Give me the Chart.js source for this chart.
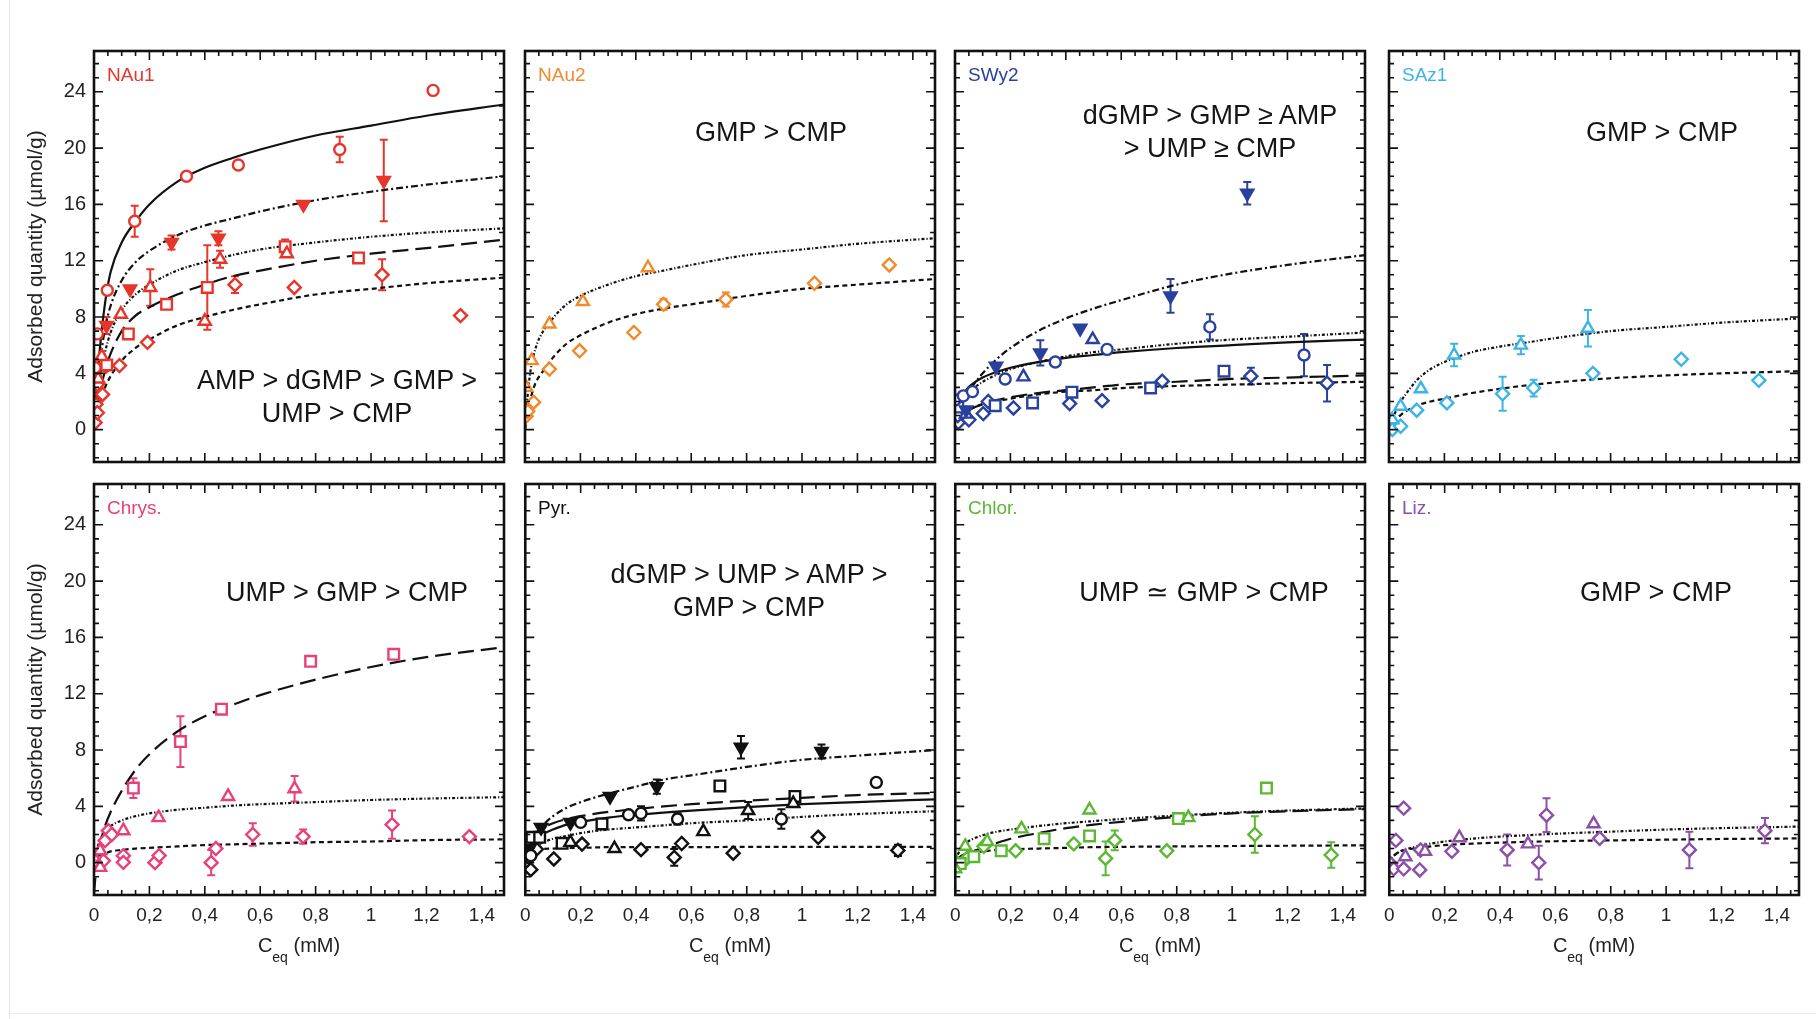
<!DOCTYPE html>
<html lang="en">
<head>
<meta charset="UTF-8">
<title>Adsorption isotherms of nucleotides on clays</title>
<script src="https://cdn.jsdelivr.net/npm/chart.js"></script>
<style>
    body { margin: 0; background: #fff; font-family: "Liberation Sans", Arial, sans-serif; }
    #page { position: relative; width: 1816px; height: 1019px; overflow: hidden; }
    #page canvas { position: absolute; }
    .edge-l { position: absolute; left: 9px; top: 0; width: 1px; height: 1019px; background: #e4e4e4; }
    .edge-b { position: absolute; left: 9px; top: 1013px; width: 1807px; height: 1px; background: #ececec; }
    .clay { position: absolute; font-size: 19px; transform: translateY(-50%); white-space: nowrap; }
    .rank { position: absolute; font-size: 27px; color: #151515; transform: translate(-50%, -50%); white-space: nowrap; }
    .xtitle { position: absolute; font-size: 20px; color: #222; transform: translate(-50%, -50%); white-space: nowrap; }
    .xtitle sub { font-size: 14px; vertical-align: -10px; line-height: 0; }
</style>
</head>
<body>
<div id="page">
    <div class="edge-l"></div>
    <div class="edge-b"></div>
</div>

<script>
const curveX = [0, 0.01, 0.02, 0.04, 0.06, 0.1, 0.15, 0.2, 0.3, 0.4, 0.5, 0.6, 0.8, 1.0, 1.2, 1.48];

const yTickVals = [0, 4, 8, 12, 16, 20, 24];
const yTickLabels = ['0', '4', '8', '12', '16', '20', '24'];
const xTickVals = [0, 0.2, 0.4, 0.6, 0.8, 1, 1.2, 1.4];
const xTickLabels = ['0', '0,2', '0,4', '0,6', '0,8', '1', '1,2', '1,4'];

// measured points: [Ceq, q, error]
const nau1AMP = [[0.004, 4.4, 0], [0.012, 6.8, 0], [0.048, 9.9, 0], [0.147, 14.8, 1.1], [0.334, 18.0, 0], [0.521, 18.8, 0], [0.887, 19.9, 0.9], [1.224, 24.1, 0]];
const nau1dGMP = [[0.045, 7.4, 0.6], [0.13, 10.0, 0], [0.28, 13.3, 0.5], [0.449, 13.6, 0.5], [0.756, 16.0, 0], [1.046, 17.7, 2.9]];
const nau1GMP = [[0.015, 3.6, 0], [0.028, 5.2, 0], [0.097, 8.2, 0], [0.203, 10.1, 1.3], [0.40, 7.7, 0], [0.455, 12.1, 0.6], [0.696, 12.5, 0]];
const nau1UMP = [[0.046, 4.6, 0], [0.124, 6.8, 0], [0.262, 8.9, 0], [0.409, 10.1, 3.0], [0.69, 13.0, 0.5], [0.955, 12.2, 0]];
const nau1CMP = [[0.004, 0.5, 0], [0.007, 1.8, 0], [0.012, 1.2, 0], [0.012, 3.2, 0], [0.031, 2.5, 0], [0.043, 4.5, 0], [0.092, 4.55, 0], [0.193, 6.2, 0], [0.509, 10.3, 0.6], [0.723, 10.1, 0], [1.04, 11.0, 1.1], [1.323, 8.1, 0]];
const nau1AMPFit = [0, 3.0, 5.5, 9.0, 11.2, 13.3, 14.8, 16.0, 17.6, 18.6, 19.3, 19.9, 20.9, 21.6, 22.3, 23.1];
const nau1dGMPFit = [0, 2.5, 4.5, 7.2, 8.8, 10.6, 11.9, 12.7, 13.8, 14.5, 15.0, 15.5, 16.3, 16.9, 17.4, 18.0];
const nau1GMPFit = [0, 1.8, 3.4, 5.5, 6.9, 8.5, 9.6, 10.3, 11.3, 11.9, 12.4, 12.8, 13.3, 13.7, 14.0, 14.3];
const nau1UMPFit = [0, 1.3, 2.5, 4.2, 5.4, 7.0, 8.1, 8.7, 9.6, 10.3, 10.9, 11.3, 12.0, 12.5, 12.9, 13.5];
const nau1CMPFit = [0, 1.0, 1.8, 3.0, 3.8, 4.9, 5.8, 6.4, 7.4, 8.0, 8.5, 8.9, 9.6, 10.0, 10.4, 10.8];

const nau2GMP = [[0.004, 3.0, 0], [0.024, 4.9, 0], [0.088, 7.5, 0], [0.209, 9.1, 0], [0.444, 11.5, 0]];
const nau2CMP = [[0.004, 0.95, 0], [0.01, 1.3, 0], [0.031, 1.95, 0], [0.088, 4.3, 0], [0.197, 5.6, 0], [0.393, 6.9, 0], [0.5, 8.9, 0.4], [0.725, 9.25, 0.5], [1.045, 10.4, 0], [1.315, 11.7, 0]];
const nau2GMPFit = [0, 2.5, 4.2, 5.9, 6.8, 7.9, 8.9, 9.5, 10.3, 10.9, 11.3, 11.7, 12.4, 12.8, 13.2, 13.6];
const nau2CMPFit = [0, 1.2, 2.2, 3.4, 4.0, 5.1, 6.1, 6.7, 7.6, 8.2, 8.6, 8.9, 9.5, 10.0, 10.3, 10.7];

const swy2AMP = [[0.0, 2.1, 0], [0.03, 2.4, 0], [0.063, 2.7, 0], [0.181, 3.6, 0], [0.362, 4.8, 0], [0.549, 5.7, 0], [0.92, 7.3, 0.9], [1.26, 5.3, 1.5]];
const swy2dGMP = [[0.04, 1.4, 0], [0.148, 4.5, 0], [0.308, 5.45, 0.9], [0.452, 7.2, 0], [0.778, 9.5, 1.2], [1.055, 16.8, 0.8]];
const swy2GMP = [[0.04, 1.1, 0], [0.247, 3.75, 0], [0.497, 6.4, 0]];
const swy2UMP = [[0.01, 1.6, 0], [0.145, 1.7, 0], [0.28, 1.9, 0], [0.422, 2.66, 0], [0.706, 2.96, 0], [0.971, 4.15, 0]];
const swy2CMP = [[0.012, 0.5, 0], [0.05, 0.7, 0], [0.01, 1.0, 0], [0.102, 1.14, 0], [0.12, 2.0, 0], [0.211, 1.54, 0], [0.414, 1.85, 0], [0.531, 2.06, 0], [0.748, 3.44, 0], [1.068, 3.8, 0.6], [1.343, 3.3, 1.3]];
const swy2AMPFit = [0, 1.2, 2.0, 2.8, 3.2, 3.7, 4.1, 4.4, 4.8, 5.1, 5.3, 5.5, 5.8, 6.0, 6.2, 6.4];
const swy2dGMPFit = [0, 0.8, 1.5, 2.4, 3.0, 4.0, 5.0, 5.8, 7.0, 7.9, 8.6, 9.2, 10.3, 11.1, 11.7, 12.4];
const swy2GMPFit = [0, 0.9, 1.5, 2.3, 2.8, 3.4, 3.9, 4.3, 4.8, 5.2, 5.5, 5.7, 6.1, 6.4, 6.6, 6.9];
const swy2UMPFit = [0, 0.5, 0.8, 1.2, 1.5, 1.8, 2.1, 2.3, 2.6, 2.8, 3.0, 3.2, 3.4, 3.6, 3.7, 3.85];
const swy2CMPFit = [0, 0.5, 0.8, 1.2, 1.5, 1.8, 2.0, 2.2, 2.5, 2.7, 2.8, 2.95, 3.1, 3.2, 3.3, 3.4];

const saz1GMP = [[0.012, 0.7, 0], [0.042, 1.66, 0], [0.115, 2.9, 0], [0.235, 5.3, 0.8], [0.476, 6.0, 0.65], [0.718, 7.2, 1.3]];
const saz1CMP = [[0.006, 0.6, 0], [0.012, 0.0, 0], [0.042, 0.24, 0], [0.1, 1.38, 0], [0.209, 1.9, 0], [0.41, 2.55, 1.2], [0.522, 2.95, 0.6], [0.736, 4.0, 0], [1.055, 5.0, 0], [1.335, 3.5, 0]];
const saz1GMPFit = [0, 0.6, 1.1, 1.9, 2.5, 3.5, 4.3, 4.8, 5.5, 5.9, 6.2, 6.5, 7.0, 7.3, 7.6, 7.9];
const saz1CMPFit = [0, 0.4, 0.7, 1.0, 1.3, 1.7, 2.0, 2.2, 2.6, 2.9, 3.15, 3.35, 3.65, 3.85, 4.0, 4.15];

const chrysGMP = [[0.022, -0.34, 0], [0.022, 0.85, 0], [0.106, 2.27, 0], [0.233, 3.2, 0], [0.484, 4.7, 0], [0.724, 5.25, 0.9]];
const chrysUMP = [[0.142, 5.3, 0.7], [0.312, 8.6, 1.8], [0.46, 10.9, 0], [0.782, 14.3, 0], [1.082, 14.8, 0]];
const chrysCMP = [[0.004, 0.13, 0], [0.034, 0.13, 0], [0.04, 1.56, 0], [0.052, 2.27, 0], [0.064, 2.0, 0], [0.106, 0.49, 0], [0.106, 0.02, 0], [0.22, 0.0, 0], [0.235, 0.5, 0], [0.423, 0.0, 0.9], [0.44, 1.0, 0], [0.573, 2.0, 0.8], [0.755, 1.85, 0.5], [1.076, 2.7, 1.0], [1.355, 1.85, 0]];
const chrysUMPFit = [-2.2, 0.0, 1.2, 2.6, 3.6, 5.1, 6.6, 7.7, 9.3, 10.4, 11.2, 11.9, 13.0, 13.9, 14.6, 15.3];
const chrysGMPFit = [0, 0.9, 1.5, 2.2, 2.6, 3.0, 3.3, 3.5, 3.75, 3.9, 4.05, 4.15, 4.3, 4.45, 4.55, 4.65];
const chrysCMPFit = [0, 0.3, 0.5, 0.65, 0.8, 0.9, 1.0, 1.05, 1.15, 1.25, 1.3, 1.35, 1.45, 1.5, 1.6, 1.65];

const pyrAMP = [[0.02, 0.5, 0], [0.2, 2.86, 0], [0.373, 3.4, 0], [0.418, 3.5, 0.5], [0.55, 3.1, 0.4], [0.925, 3.1, 0.7], [1.268, 5.7, 0]];
const pyrdGMP = [[0.015, 1.0, 0], [0.057, 2.5, 0], [0.163, 2.86, 0], [0.306, 4.7, 0], [0.475, 5.4, 0.5], [0.779, 8.2, 0.8], [1.07, 7.9, 0.5]];
const pyrGMP = [[0.163, 1.44, 0], [0.322, 1.0, 0], [0.643, 2.2, 0], [0.805, 3.7, 0.6], [0.968, 4.2, 0]];
const pyrUMP = [[0.024, 1.8, 0], [0.052, 1.8, 0], [0.133, 1.37, 0], [0.277, 2.75, 0], [0.703, 5.45, 0], [0.974, 4.7, 0]];
const pyrCMP = [[0.0, -0.3, 0], [0.02, -0.5, 0], [0.04, 0.95, 0], [0.103, 0.26, 0], [0.205, 1.32, 0], [0.418, 0.92, 0], [0.538, 0.37, 0.6], [0.565, 1.36, 0], [0.751, 0.67, 0], [1.058, 1.8, 0], [1.346, 0.87, 0.4]];
const pyrAMPFit = [0, 0.8, 1.2, 1.7, 2.0, 2.35, 2.7, 2.9, 3.2, 3.4, 3.55, 3.7, 3.95, 4.15, 4.3, 4.5];
const pyrdGMPFit = [0, 0.8, 1.4, 2.1, 2.6, 3.3, 3.9, 4.3, 4.9, 5.4, 5.9, 6.2, 6.8, 7.3, 7.6, 8.0];
const pyrGMPFit = [0, 0.6, 0.9, 1.2, 1.4, 1.7, 1.9, 2.1, 2.35, 2.5, 2.65, 2.8, 3.0, 3.25, 3.45, 3.65];
const pyrUMPFit = [0, 1.0, 1.5, 2.1, 2.4, 2.8, 3.1, 3.3, 3.6, 3.8, 4.0, 4.15, 4.4, 4.6, 4.8, 4.95];
const pyrCMPFit = [0, 0.5, 0.7, 0.85, 0.95, 1.0, 1.05, 1.05, 1.1, 1.1, 1.1, 1.1, 1.12, 1.12, 1.12, 1.12];

const chlorGMP = [[0.0, -0.44, 0], [0.036, 1.16, 0], [0.115, 1.5, 0], [0.239, 2.4, 0], [0.485, 3.74, 0], [0.842, 3.2, 0]];
const chlorUMP = [[0.018, -0.07, 0], [0.067, 0.42, 0], [0.166, 0.84, 0], [0.321, 1.7, 0], [0.485, 1.9, 0], [0.806, 3.13, 0], [1.124, 5.3, 0]];
const chlorCMP = [[0.002, 0.05, 0], [0.042, 0.3, 0], [0.103, 1.16, 0], [0.218, 0.84, 0], [0.428, 1.33, 0], [0.543, 0.3, 1.2], [0.576, 1.58, 0.7], [0.764, 0.84, 0], [1.082, 2.0, 1.3], [1.358, 0.54, 0.9]];
const chlorGMPFit = [0, 0.6, 1.0, 1.4, 1.65, 1.95, 2.2, 2.35, 2.6, 2.8, 2.95, 3.1, 3.35, 3.55, 3.7, 3.85];
const chlorUMPFit = [0, 0.3, 0.45, 0.65, 0.8, 1.05, 1.4, 1.7, 2.1, 2.45, 2.7, 2.9, 3.25, 3.5, 3.65, 3.8];
const chlorCMPFit = [0, 0.3, 0.45, 0.6, 0.7, 0.8, 0.9, 0.95, 1.0, 1.05, 1.1, 1.12, 1.15, 1.18, 1.2, 1.23];

const lizGMP = [[0.058, 0.42, 0], [0.129, 0.8, 0], [0.253, 1.77, 0], [0.501, 1.33, 0], [0.738, 2.76, 0]];
const lizCMP = [[0.004, -0.07, 0], [0.016, -0.44, 0], [0.024, 1.58, 0], [0.052, 3.87, 0], [0.052, -0.44, 0], [0.11, -0.52, 0], [0.113, 0.9, 0], [0.226, 0.8, 0], [0.426, 0.9, 1.1], [0.54, 0.0, 1.2], [0.568, 3.37, 1.2], [0.76, 1.72, 0], [1.084, 0.9, 1.3], [1.357, 2.27, 0.9]];
const lizGMPFit = [0, 0.35, 0.55, 0.8, 0.95, 1.15, 1.35, 1.5, 1.7, 1.85, 1.95, 2.05, 2.2, 2.35, 2.45, 2.56];
const lizCMPFit = [0, 0.35, 0.55, 0.8, 0.9, 1.05, 1.15, 1.25, 1.35, 1.42, 1.48, 1.52, 1.58, 1.63, 1.68, 1.72];

const panels = [
    { name: 'NAu1', color: '#e8352b', rank: ['AMP > dGMP > GMP >', 'UMP > CMP'],
      marks: { AMP: nau1AMP, dGMP: nau1dGMP, GMP: nau1GMP, UMP: nau1UMP, CMP: nau1CMP },
      fits: { AMP: nau1AMPFit, dGMP: nau1dGMPFit, GMP: nau1GMPFit, UMP: nau1UMPFit, CMP: nau1CMPFit } },
    { name: 'NAu2', color: '#f08a2c', rank: ['GMP > CMP'],
      marks: { GMP: nau2GMP, CMP: nau2CMP }, fits: { GMP: nau2GMPFit, CMP: nau2CMPFit } },
    { name: 'SWy2', color: '#28419e', rank: ['dGMP > GMP \u2265 AMP', '> UMP \u2265 CMP'],
      marks: { AMP: swy2AMP, dGMP: swy2dGMP, GMP: swy2GMP, UMP: swy2UMP, CMP: swy2CMP },
      fits: { AMP: swy2AMPFit, dGMP: swy2dGMPFit, GMP: swy2GMPFit, UMP: swy2UMPFit, CMP: swy2CMPFit } },
    { name: 'SAz1', color: '#3db4e6', rank: ['GMP > CMP'],
      marks: { GMP: saz1GMP, CMP: saz1CMP }, fits: { GMP: saz1GMPFit, CMP: saz1CMPFit } },
    { name: 'Chrys.', color: '#e8407c', rank: ['UMP > GMP > CMP'],
      marks: { GMP: chrysGMP, UMP: chrysUMP, CMP: chrysCMP },
      fits: { GMP: chrysGMPFit, UMP: chrysUMPFit, CMP: chrysCMPFit } },
    { name: 'Pyr.', color: '#111111', rank: ['dGMP > UMP > AMP >', 'GMP > CMP'],
      marks: { AMP: pyrAMP, dGMP: pyrdGMP, GMP: pyrGMP, UMP: pyrUMP, CMP: pyrCMP },
      fits: { AMP: pyrAMPFit, dGMP: pyrdGMPFit, GMP: pyrGMPFit, UMP: pyrUMPFit, CMP: pyrCMPFit } },
    { name: 'Chlor.', color: '#5cb733', rank: ['UMP \u2243 GMP > CMP'],
      marks: { GMP: chlorGMP, UMP: chlorUMP, CMP: chlorCMP },
      fits: { GMP: chlorGMPFit, UMP: chlorUMPFit, CMP: chlorCMPFit } },
    { name: 'Liz.', color: '#8d50a8', rank: ['GMP > CMP'],
      marks: { GMP: lizGMP, CMP: lizCMP }, fits: { GMP: lizGMPFit, CMP: lizCMPFit } }
];

// symbol + fit line style for each nucleotide
const nucStyle = {
    AMP:  { pointStyle: 'circle',   rotation: 0,   filled: false, radius: 5.5, dash: [] },
    dGMP: { pointStyle: 'triangle', rotation: 180, filled: true,  radius: 7,   dash: [7, 3, 2, 3] },
    GMP:  { pointStyle: 'triangle', rotation: 0,   filled: false, radius: 7,   dash: [3, 2, 1.2, 2] },
    UMP:  { pointStyle: 'rect',     rotation: 0,   filled: false, radius: 7.5, dash: [16, 7] },
    CMP:  { pointStyle: 'rectRot',  rotation: 0,   filled: false, radius: 6.5, dash: [5, 3.5] }
};

// page layout
const colLeft = [94, 525, 955, 1389];
const rowTop = [51, 484];
const PW = 410, PH = 411;
const rankPos = [[337, 380], [771, 132], [1210, 115], [1662, 132], [347, 592], [749, 574], [1204, 592], [1656, 592]];
const rankGap = 33;
const font = '"Liberation Sans", Arial, sans-serif';

const frameTicks = {
    id: 'frameTicks',
    afterDraw(chart) {
        const { ctx, chartArea: a, scales: { x, y } } = chart;
        ctx.save();
        ctx.strokeStyle = '#111';
        ctx.lineWidth = 1.6;
        ctx.beginPath();
        for (let i = 0; i <= 29; i++) {
            const len = i % 4 === 0 ? 9 : 5;
            const px = x.getPixelForValue(i * 0.05);
            ctx.moveTo(px, a.bottom); ctx.lineTo(px, a.bottom - len);
            ctx.moveTo(px, a.top); ctx.lineTo(px, a.top + len);
        }
        for (let v = -2; v <= 26; v++) {
            const len = v % 4 === 0 ? 9 : 5;
            const py = y.getPixelForValue(v);
            ctx.moveTo(a.left, py); ctx.lineTo(a.left + len, py);
            ctx.moveTo(a.right, py); ctx.lineTo(a.right - len, py);
        }
        ctx.stroke();
        ctx.lineWidth = 2.6;
        ctx.strokeRect(a.left, a.top, a.width, a.height);
        ctx.restore();
    }
};

const errorBars = {
    id: 'errorBars',
    beforeDatasetsDraw(chart) {
        const { ctx, scales: { x, y } } = chart;
        ctx.save();
        ctx.lineWidth = 2;
        chart.data.datasets.forEach(ds => {
            if (!ds.errBars) return;
            ctx.strokeStyle = ds.pointBorderColor;
            ds.data.forEach(p => {
                if (!p.e) return;
                const px = x.getPixelForValue(p.x);
                const y1 = y.getPixelForValue(p.y - p.e);
                const y2 = y.getPixelForValue(p.y + p.e);
                ctx.beginPath();
                ctx.moveTo(px, y1); ctx.lineTo(px, y2);
                ctx.moveTo(px - 4, y1); ctx.lineTo(px + 4, y1);
                ctx.moveTo(px - 4, y2); ctx.lineTo(px + 4, y2);
                ctx.stroke();
            });
        });
        ctx.restore();
    }
};

const page = document.getElementById('page');

panels.forEach((p, idx) => {
    const col = idx % 4, row = Math.floor(idx / 4);
    const firstCol = col === 0, bottomRow = row === 1;
    const L = firstCol ? 94 : 14, T = 24, R = 14, B = bottomRow ? 46 : 24;

    const canvas = document.createElement('canvas');
    canvas.width = L + PW + R;
    canvas.height = T + PH + B;
    canvas.style.left = (colLeft[col] - L) + 'px';
    canvas.style.top = (rowTop[row] - T) + 'px';
    page.appendChild(canvas);

    const datasets = [];
    Object.keys(p.marks).forEach(k => {
        const st = nucStyle[k];
        datasets.push({
            type: 'scatter',
            data: p.marks[k].map(([x, y, e]) => ({ x, y, e })),
            showLine: false,
            pointStyle: st.pointStyle,
            rotation: st.rotation,
            pointRadius: st.radius,
            pointBorderWidth: 2.4,
            pointBorderColor: p.color,
            pointBackgroundColor: st.filled ? p.color : '#ffffff',
            errBars: true
        });
    });
    Object.keys(p.fits).forEach(k => {
        datasets.push({
            type: 'line',
            data: curveX.map((x, i) => ({ x, y: p.fits[k][i] })),
            showLine: true,
            borderColor: '#111',
            borderWidth: 2.2,
            borderDash: nucStyle[k].dash,
            pointRadius: 0,
            cubicInterpolationMode: 'monotone',
            fill: false
        });
    });

    new Chart(canvas.getContext('2d'), {
        type: 'scatter',
        data: { datasets },
        options: {
            responsive: false,
            animation: false,
            events: [],
            layout: { padding: { left: firstCol ? 0 : L, right: R, top: T, bottom: bottomRow ? 0 : B } },
            plugins: { legend: { display: false }, tooltip: { enabled: false } },
            scales: {
                x: {
                    type: 'linear', min: 0, max: 1.48,
                    display: bottomRow,
                    grid: { display: false, drawTicks: false },
                    border: { display: false },
                    afterBuildTicks: s => { s.ticks = xTickVals.map(v => ({ value: v })); },
                    afterFit: s => { s.height = bottomRow ? B : 0; },
                    ticks: {
                        autoSkip: false, maxRotation: 0, padding: 9, color: '#222',
                        font: { family: font, size: 19 },
                        callback: (v, i) => xTickLabels[i]
                    }
                },
                y: {
                    type: 'linear', min: -2.3, max: 26.9,
                    display: firstCol,
                    grid: { display: false, drawTicks: false },
                    border: { display: false },
                    afterBuildTicks: s => { s.ticks = yTickVals.map(v => ({ value: v })); },
                    afterFit: s => { s.width = firstCol ? L : 0; },
                    ticks: {
                        padding: 8, color: '#222',
                        font: { family: font, size: 20 },
                        callback: (v, i) => yTickLabels[i]
                    },
                    title: {
                        display: true, text: 'Adsorbed quantity (\u00b5mol/g)', color: '#222',
                        font: { family: font, size: 21 },
                        padding: { top: 24, bottom: 0 }
                    }
                }
            }
        },
        plugins: [errorBars, frameTicks]
    });

    // clay name
    const lab = document.createElement('div');
    lab.className = 'clay';
    lab.textContent = p.name;
    lab.style.color = p.color;
    lab.style.left = (colLeft[col] + 13) + 'px';
    lab.style.top = (rowTop[row] + 24) + 'px';
    page.appendChild(lab);

    // selectivity order
    p.rank.forEach((line, j) => {
        const d = document.createElement('div');
        d.className = 'rank';
        d.textContent = line;
        d.style.left = rankPos[idx][0] + 'px';
        d.style.top = (rankPos[idx][1] + j * rankGap) + 'px';
        page.appendChild(d);
    });

    if (bottomRow) {
        const t = document.createElement('div');
        t.className = 'xtitle';
        t.innerHTML = 'C<sub>eq</sub> (mM)';
        t.style.left = (colLeft[col] + PW / 2) + 'px';
        t.style.top = '945px';
        page.appendChild(t);
    }
});
</script>
</body>
</html>
